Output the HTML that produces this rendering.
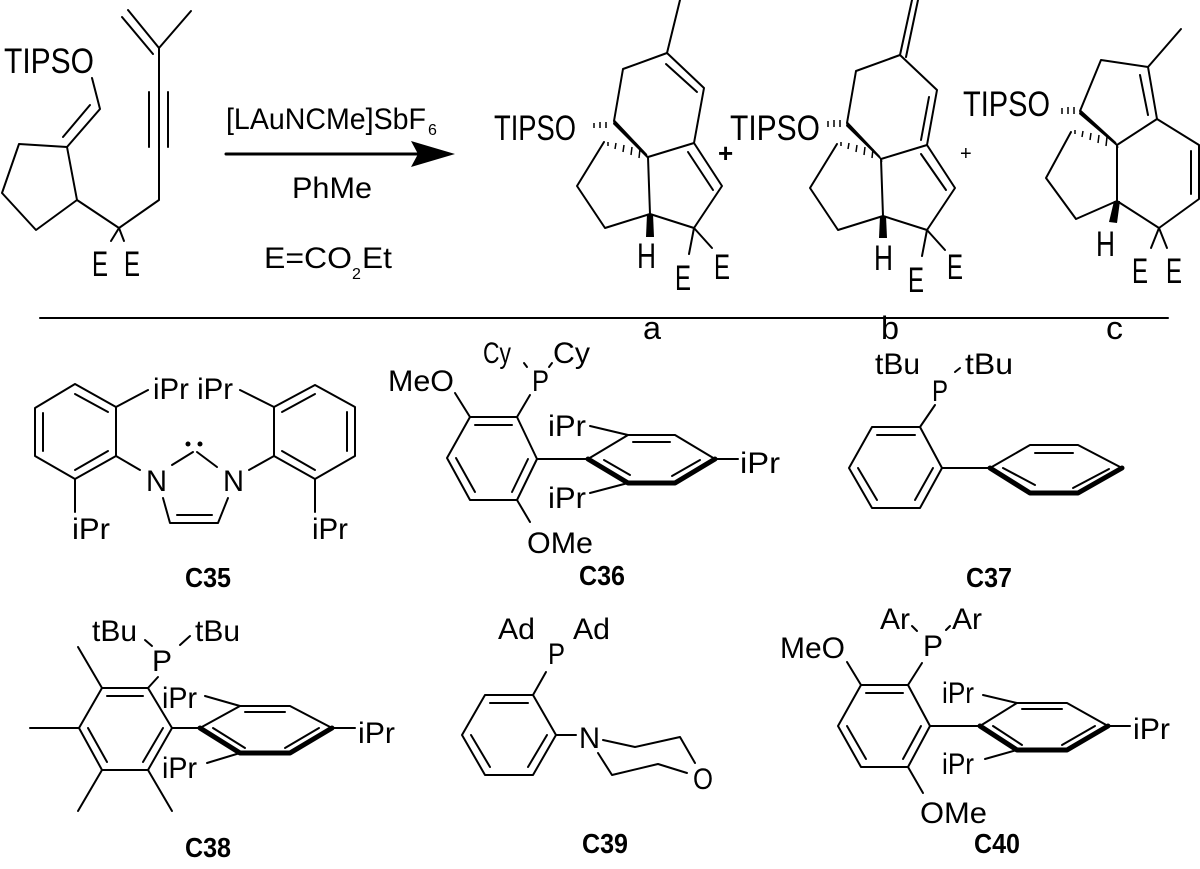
<!DOCTYPE html>
<html><head><meta charset="utf-8"><style>
html,body{margin:0;padding:0;background:#fff;}
svg{display:block;}
text{font-family:"Liberation Sans",sans-serif;fill:#000;}
.b{font-weight:bold;}
</style></head><body>
<svg width="1200" height="869" viewBox="0 0 1200 869" xmlns="http://www.w3.org/2000/svg">
<g stroke="#000" stroke-width="2" fill="none" stroke-linecap="round" stroke-linejoin="round">
<polyline points="92,78 100,109 67,147 19,144 2,193 36,230 77,200 67,147"/>
<line x1="90" y1="105" x2="63" y2="137"/>
<polyline points="77,200 119,228 159,200 159,48"/>
<line x1="149" y1="92" x2="149" y2="147"/><line x1="168" y1="92" x2="168" y2="147"/>
<line x1="159" y1="48" x2="128" y2="10"/><line x1="153" y1="54" x2="122" y2="17"/>
<line x1="159" y1="48" x2="191" y2="11"/>
<line x1="119" y1="228" x2="111" y2="241"/><line x1="119" y1="228" x2="124" y2="241"/>
<line x1="226" y1="154" x2="420" y2="154" stroke-width="3"/>
<polyline points="614,121 623,69 667,53 704,88 694,143 648,157"/>
<line x1="667" y1="53" x2="680" y2="0"/>
<line x1="666" y1="64" x2="697" y2="92"/>
<polyline points="694,143 722,186 694,228 650,214 648,157"/>
<line x1="688" y1="152" x2="713" y2="190"/>
<polyline points="604,142 577,186 605,228 650,214"/>
<line x1="694" y1="228" x2="689" y2="254"/><line x1="694" y1="228" x2="712" y2="248"/>
<polyline points="847,123 856,71 900,55 937,90 927,145 881,159"/>
<line x1="900" y1="55" x2="912" y2="0"/><line x1="906" y1="57" x2="918" y2="0"/>
<line x1="929" y1="97" x2="921" y2="140"/>
<polyline points="927,145 955,188 927,230 883,216 881,159"/>
<line x1="921" y1="154" x2="946" y2="190"/>
<polyline points="837,144 810,188 838,230 883,216"/>
<line x1="927" y1="230" x2="922" y2="256"/><line x1="927" y1="230" x2="945" y2="250"/>
<polyline points="1080,111 1101,60 1148,67 1157,119 1117,145"/>
<line x1="1148" y1="67" x2="1181" y2="29"/>
<line x1="1140" y1="75" x2="1148" y2="115"/>
<polyline points="1157,119 1199,145 1199,199 1159,228 1117,201 1117,145"/>
<line x1="1191" y1="151" x2="1191" y2="194"/>
<polyline points="1071,132 1046,178 1076,219 1117,201"/>
<line x1="1159" y1="228" x2="1151" y2="248"/><line x1="1159" y1="228" x2="1167" y2="248"/>
<line x1="40" y1="318" x2="1168" y2="318"/>
<polygon points="35,408 75,384 116,407 116,456 75,479 35,456"/>
<line x1="43" y1="413" x2="43" y2="451"/><line x1="75" y1="394" x2="108" y2="412"/><line x1="108" y1="451" x2="75" y2="470"/>
<line x1="116" y1="407" x2="148" y2="390"/><line x1="75" y1="479" x2="75" y2="512"/>
<line x1="116" y1="456" x2="140" y2="470"/>
<line x1="172" y1="465" x2="193" y2="452"/><line x1="197" y1="452" x2="217" y2="467"/>
<polyline points="163,498 170,523 218,523 228,498"/>
<line x1="177" y1="515" x2="212" y2="515"/>
<line x1="249" y1="470" x2="274" y2="456"/>
<polygon points="274,456 274,407 315,385 355,407 355,456 315,479"/>
<line x1="282" y1="412" x2="315" y2="394"/><line x1="347" y1="412" x2="347" y2="451"/><line x1="315" y1="470" x2="282" y2="451"/>
<line x1="274" y1="407" x2="240" y2="390"/><line x1="315" y1="479" x2="315" y2="512"/>
<polygon points="470,417 517,417 537,459 517,500 470,500 447,458"/>
<line x1="475" y1="425" x2="512" y2="425"/><line x1="528" y1="459" x2="512" y2="492"/><line x1="475" y1="492" x2="456" y2="458"/>
<line x1="470" y1="417" x2="455" y2="393"/><line x1="517" y1="417" x2="530" y2="395"/><line x1="517" y1="500" x2="530" y2="522"/>
<line x1="537" y1="459" x2="588" y2="459"/>
<polyline points="588,459 628,435 675,435 715,459"/>
<polyline points="588,459 628,483 675,483 715,459" stroke-width="5"/>
<line x1="633" y1="442" x2="670" y2="442"/><line x1="604" y1="460" x2="630" y2="475"/><line x1="700" y1="460" x2="672" y2="476"/>
<line x1="590" y1="426" x2="628" y2="435"/><line x1="590" y1="493" x2="628" y2="483"/><line x1="715" y1="459" x2="738" y2="459"/>
<line x1="524" y1="363" x2="527" y2="367"/><line x1="549" y1="367" x2="552" y2="363"/>
<polygon points="872,427 920,427 942,468 920,508 872,508 849,468"/>
<line x1="877" y1="435" x2="915" y2="435"/><line x1="933" y1="468" x2="915" y2="500"/><line x1="877" y1="500" x2="858" y2="468"/>
<line x1="920" y1="427" x2="935" y2="405"/><line x1="942" y1="468" x2="990" y2="468"/>
<polyline points="990,468 1030,445 1078,445 1122,468"/>
<polyline points="990,468 1030,493 1078,493 1122,468" stroke-width="5"/>
<line x1="1035" y1="453" x2="1073" y2="453"/><line x1="1003" y1="468" x2="1035" y2="485"/><line x1="1109" y1="469" x2="1073" y2="488"/>
<line x1="955" y1="372" x2="960" y2="368"/>
<polygon points="102,688 148,688 172,728 148,770 102,770 79,728"/>
<line x1="107" y1="696" x2="143" y2="696"/><line x1="163" y1="728" x2="143" y2="762"/><line x1="107" y1="762" x2="88" y2="728"/>
<line x1="102" y1="688" x2="78" y2="647"/><line x1="79" y1="728" x2="30" y2="728"/><line x1="102" y1="770" x2="78" y2="811"/><line x1="148" y1="770" x2="172" y2="811"/>
<line x1="148" y1="688" x2="158" y2="677"/><line x1="172" y1="728" x2="200" y2="728"/>
<polyline points="200,728 240,706 290,706 332,728"/>
<polyline points="200,728 240,753 290,753 332,728" stroke-width="5"/>
<line x1="245" y1="712" x2="285" y2="712"/><line x1="213" y1="728" x2="245" y2="748"/><line x1="319" y1="728" x2="285" y2="748"/>
<line x1="205" y1="696" x2="240" y2="706"/><line x1="207" y1="763" x2="240" y2="753"/><line x1="332" y1="728" x2="355" y2="728"/>
<line x1="145" y1="640" x2="152" y2="646"/><line x1="180" y1="645" x2="190" y2="636"/>
<polygon points="485,695 533,695 556,735 533,775 485,775 462,735"/>
<line x1="490" y1="703" x2="528" y2="703"/><line x1="547" y1="735" x2="528" y2="767"/><line x1="490" y1="767" x2="471" y2="735"/>
<line x1="533" y1="695" x2="546" y2="672"/><line x1="556" y1="735" x2="576" y2="735"/>
<polyline points="603,740 635,747 680,737 695,763"/>
<polyline points="687,773 658,764 612,775 598,753"/>
<polygon points="861,685 908,685 930,726 908,767 861,767 838,726"/>
<line x1="866" y1="693" x2="903" y2="693"/><line x1="921" y1="726" x2="903" y2="759"/><line x1="866" y1="759" x2="847" y2="726"/>
<line x1="861" y1="685" x2="847" y2="662"/><line x1="908" y1="685" x2="922" y2="663"/><line x1="908" y1="767" x2="923" y2="793"/>
<line x1="930" y1="726" x2="980" y2="726"/>
<polyline points="980,726 1017,703 1067,703 1108,726"/>
<polyline points="980,726 1017,750 1067,750 1108,726" stroke-width="5"/>
<line x1="1022" y1="709" x2="1062" y2="709"/><line x1="993" y1="726" x2="1022" y2="745"/><line x1="1095" y1="726" x2="1062" y2="745"/>
<line x1="983" y1="695" x2="1017" y2="703"/><line x1="985" y1="759" x2="1017" y2="750"/><line x1="1108" y1="726" x2="1130" y2="726"/>
<line x1="912" y1="626" x2="917" y2="631"/><line x1="946" y1="630" x2="950" y2="626"/>
</g>
<polygon points="411,141 455,154 411,167 418,154" fill="#000"/>
<polygon points="614,119 613,124 649,160 647,154" fill="#000"/>
<polygon points="847,121 846,126 883,162 880,156" fill="#000"/>
<polygon points="1080,109 1079,114 1119,148 1116,142" fill="#000"/>
<polygon points="647,214 653,214 654,237 646,237" fill="#000"/>
<polygon points="880,216 886,216 887,238 879,238" fill="#000"/>
<polygon points="1114,201 1120,201 1117,223 1109,222" fill="#000"/>
<g stroke="#000" stroke-width="1.5">
<line x1="594" y1="123" x2="594" y2="128"/><line x1="600" y1="122" x2="600" y2="128"/><line x1="606" y1="122" x2="606" y2="128"/>
<line x1="608" y1="142" x2="608" y2="146"/><line x1="616" y1="143" x2="615" y2="149"/><line x1="624" y1="145" x2="623" y2="152"/><line x1="632" y1="147" x2="631" y2="155"/><line x1="640" y1="149" x2="639" y2="158"/>
<line x1="828" y1="121" x2="828" y2="127"/><line x1="834" y1="120" x2="834" y2="127"/><line x1="840" y1="120" x2="840" y2="127"/>
<line x1="841" y1="142" x2="841" y2="146"/><line x1="849" y1="143" x2="848" y2="149"/><line x1="857" y1="145" x2="856" y2="152"/><line x1="865" y1="147" x2="864" y2="155"/><line x1="873" y1="149" x2="872" y2="158"/>
<line x1="1062" y1="108" x2="1062" y2="114"/><line x1="1068" y1="107" x2="1068" y2="114"/><line x1="1074" y1="107" x2="1074" y2="114"/>
<line x1="1075" y1="130" x2="1075" y2="134"/><line x1="1083" y1="131" x2="1082" y2="137"/><line x1="1091" y1="133" x2="1090" y2="140"/><line x1="1099" y1="135" x2="1098" y2="143"/><line x1="1107" y1="137" x2="1106" y2="146"/>
</g>
<circle cx="188" cy="444" r="2.5" fill="#000"/><circle cx="200" cy="444" r="2.5" fill="#000"/>
<g font-size="35">
<text x="4" y="73" textLength="90" lengthAdjust="spacingAndGlyphs">TIPSO</text>
<text x="92" y="276" textLength="16" lengthAdjust="spacingAndGlyphs">E</text>
<text x="124" y="276" textLength="16" lengthAdjust="spacingAndGlyphs">E</text>
<text x="494" y="140" textLength="82" lengthAdjust="spacingAndGlyphs">TIPSO</text>
<text x="730" y="140" textLength="90" lengthAdjust="spacingAndGlyphs">TIPSO</text>
<text x="963" y="116" textLength="87" lengthAdjust="spacingAndGlyphs">TIPSO</text>
<text x="637" y="268" textLength="19" lengthAdjust="spacingAndGlyphs">H</text>
<text x="675" y="290" textLength="16" lengthAdjust="spacingAndGlyphs">E</text>
<text x="714" y="279" textLength="16" lengthAdjust="spacingAndGlyphs">E</text>
<text x="874" y="270" textLength="19" lengthAdjust="spacingAndGlyphs">H</text>
<text x="908" y="292" textLength="16" lengthAdjust="spacingAndGlyphs">E</text>
<text x="947" y="279" textLength="16" lengthAdjust="spacingAndGlyphs">E</text>
<text x="1096" y="256" textLength="19" lengthAdjust="spacingAndGlyphs">H</text>
<text x="1132" y="283" textLength="16" lengthAdjust="spacingAndGlyphs">E</text>
<text x="1166" y="283" textLength="16" lengthAdjust="spacingAndGlyphs">E</text>
</g>
<g font-size="32">
<text x="643" y="339" textLength="18" lengthAdjust="spacingAndGlyphs">a</text>
<text x="881" y="339" textLength="18" lengthAdjust="spacingAndGlyphs">b</text>
<text x="1106" y="339" textLength="17" lengthAdjust="spacingAndGlyphs">c</text>
</g>
<text x="718" y="162" font-size="26" font-weight="bold">+</text>
<text x="960" y="160" font-size="20">+</text>
<g font-size="30">
<text x="226" y="129" textLength="200" lengthAdjust="spacingAndGlyphs">[LAuNCMe]SbF</text>
<text x="428" y="135" font-size="16">6</text>
<text x="292" y="198" textLength="80" lengthAdjust="spacingAndGlyphs">PhMe</text>
<text x="264" y="268" textLength="88" lengthAdjust="spacingAndGlyphs">E=CO</text>
<text x="352" y="279" font-size="16">2</text>
<text x="362" y="268" textLength="30" lengthAdjust="spacingAndGlyphs">Et</text>
</g>
<g font-size="30">
<text x="153" y="399" textLength="80" lengthAdjust="spacingAndGlyphs">iPr iPr</text>
<text x="72" y="539" textLength="38" lengthAdjust="spacingAndGlyphs">iPr</text>
<text x="312" y="539" textLength="36" lengthAdjust="spacingAndGlyphs">iPr</text>
<text x="146" y="491" textLength="21" lengthAdjust="spacingAndGlyphs">N</text>
<text x="223" y="491" textLength="21" lengthAdjust="spacingAndGlyphs">N</text>
<text x="388" y="391" textLength="66" lengthAdjust="spacingAndGlyphs">MeO</text>
<text x="483" y="363" textLength="28" lengthAdjust="spacingAndGlyphs">Cy</text>
<text x="553" y="363" textLength="37" lengthAdjust="spacingAndGlyphs">Cy</text>
<text x="532" y="391" textLength="17" lengthAdjust="spacingAndGlyphs">P</text>
<text x="548" y="436" textLength="38" lengthAdjust="spacingAndGlyphs">iPr</text>
<text x="548" y="508" textLength="38" lengthAdjust="spacingAndGlyphs">iPr</text>
<text x="740" y="473" textLength="40" lengthAdjust="spacingAndGlyphs">iPr</text>
<text x="527" y="553" textLength="66" lengthAdjust="spacingAndGlyphs">OMe</text>
<text x="875" y="374" textLength="45" lengthAdjust="spacingAndGlyphs">tBu</text>
<text x="965" y="374" textLength="48" lengthAdjust="spacingAndGlyphs">tBu</text>
<text x="932" y="401" textLength="16" lengthAdjust="spacingAndGlyphs">P</text>
<text x="92" y="641" textLength="45" lengthAdjust="spacingAndGlyphs">tBu</text>
<text x="195" y="641" textLength="45" lengthAdjust="spacingAndGlyphs">tBu</text>
<text x="152" y="671" textLength="20" lengthAdjust="spacingAndGlyphs">P</text>
<text x="162" y="708" textLength="35" lengthAdjust="spacingAndGlyphs">iPr</text>
<text x="162" y="778" textLength="35" lengthAdjust="spacingAndGlyphs">iPr</text>
<text x="358" y="743" textLength="37" lengthAdjust="spacingAndGlyphs">iPr</text>
<text x="498" y="639" textLength="37" lengthAdjust="spacingAndGlyphs">Ad</text>
<text x="573" y="639" textLength="37" lengthAdjust="spacingAndGlyphs">Ad</text>
<text x="548" y="664" textLength="17" lengthAdjust="spacingAndGlyphs">P</text>
<text x="579" y="748" textLength="21" lengthAdjust="spacingAndGlyphs">N</text>
<text x="693" y="789" textLength="20" lengthAdjust="spacingAndGlyphs">O</text>
<text x="780" y="658" textLength="65" lengthAdjust="spacingAndGlyphs">MeO</text>
<text x="880" y="629" textLength="30" lengthAdjust="spacingAndGlyphs">Ar</text>
<text x="952" y="629" textLength="30" lengthAdjust="spacingAndGlyphs">Ar</text>
<text x="923" y="656" textLength="20" lengthAdjust="spacingAndGlyphs">P</text>
<text x="942" y="703" textLength="32" lengthAdjust="spacingAndGlyphs">iPr</text>
<text x="942" y="774" textLength="32" lengthAdjust="spacingAndGlyphs">iPr</text>
<text x="1133" y="739" textLength="37" lengthAdjust="spacingAndGlyphs">iPr</text>
<text x="920" y="823" textLength="67" lengthAdjust="spacingAndGlyphs">OMe</text>
</g>
<g font-size="28" class="b">
<text x="185" y="587" textLength="46" lengthAdjust="spacingAndGlyphs">C35</text>
<text x="579" y="585" textLength="46" lengthAdjust="spacingAndGlyphs">C36</text>
<text x="966" y="587" textLength="46" lengthAdjust="spacingAndGlyphs">C37</text>
<text x="185" y="857" textLength="46" lengthAdjust="spacingAndGlyphs">C38</text>
<text x="582" y="853" textLength="46" lengthAdjust="spacingAndGlyphs">C39</text>
<text x="974" y="853" textLength="46" lengthAdjust="spacingAndGlyphs">C40</text>
</g>
</svg>
</body></html>
